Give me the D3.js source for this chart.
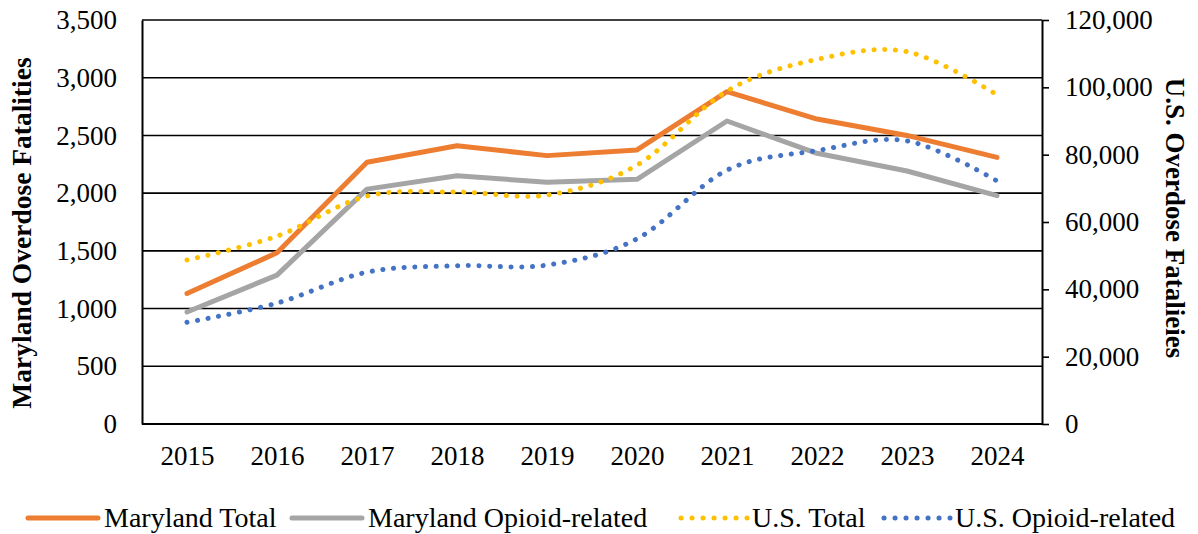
<!DOCTYPE html>
<html lang="en">
<head>
    <meta charset="UTF-8">
    <title>Overdose Fatalities</title>
    <script src="https://d3js.org/d3.v7.min.js"></script>
    <style>
        body { margin: 0; background: #fff; }
        text { font-family: "Liberation Serif", "Times New Roman", serif; fill: #000; }
    </style>
</head>
<body>
    <svg id="chart"></svg>
    <script>
        const years = ["2015", "2016", "2017", "2018", "2019", "2020", "2021", "2022", "2023", "2024"];
        const mdTotal = [1130, 1484, 2268, 2410, 2325, 2374, 2879, 2642, 2500, 2310];
        const mdOpioid = [970, 1290, 2035, 2150, 2095, 2120, 2625, 2345, 2192, 1978];
        const usTotal = [48700, 55800, 67700, 68900, 68000, 76900, 98900, 108300, 110600, 97800];
        const usOpioid = [30200, 35900, 45100, 47000, 47200, 55000, 75400, 81200, 84100, 72200];
        const leftTicks = [0, 500, 1000, 1500, 2000, 2500, 3000, 3500];
        const rightTicks = [0, 20000, 40000, 60000, 80000, 100000, 120000];

        const width = 1198, height = 534;
        const plotL = 142, plotR = 1042, plotT = 20, plotB = 424;

        const svg = d3.select("#chart").attr("width", width).attr("height", height);

        const x = d3.scalePoint().domain(years).range([plotL, plotR]).padding(0.5);
        const yL = d3.scaleLinear().domain([0, 3500]).range([plotB, plotT]);
        const yR = d3.scaleLinear().domain([0, 120000]).range([plotB, plotT]);
        const fmt = d3.format(",");

        // gridlines
        svg.append("g").selectAll("line")
            .data(leftTicks.filter(d => d > 0))
            .join("line")
            .attr("x1", plotL).attr("x2", plotR)
            .attr("y1", d => yL(d)).attr("y2", d => yL(d))
            .attr("stroke", "#000").attr("stroke-width", 1.6);

        // left axis
        const axL = svg.append("g").attr("transform", `translate(${plotL},0)`)
            .call(d3.axisLeft(yL).tickValues(leftTicks).tickFormat(fmt).tickSize(0).tickPadding(25));
        axL.select(".domain").attr("stroke", "#000").attr("stroke-width", 2);
        axL.selectAll("text").style("font-size", "27px").style("font-family", "Liberation Serif");

        // right axis
        const axR = svg.append("g").attr("transform", `translate(${plotR},0)`)
            .call(d3.axisRight(yR).tickValues(rightTicks).tickFormat(fmt).tickSizeInner(7).tickSizeOuter(0).tickPadding(16));
        axR.select(".domain").attr("stroke", "#000").attr("stroke-width", 2);
        axR.selectAll("line").attr("stroke", "#000").attr("stroke-width", 1.6);
        axR.selectAll("text").style("font-size", "27px").style("font-family", "Liberation Serif");

        // bottom axis
        const axB = svg.append("g").attr("transform", `translate(0,${plotB})`)
            .call(d3.axisBottom(x).tickSize(0).tickPadding(22));
        axB.select(".domain").attr("stroke", "#000").attr("stroke-width", 2).attr("d", `M${plotL},0H${plotR}`);
        axB.selectAll("text").style("font-size", "27px").style("font-family", "Liberation Serif");

        // axis titles
        svg.append("text")
            .attr("transform", "translate(31,233) rotate(-90)")
            .attr("text-anchor", "middle")
            .style("font-size", "27.5px").style("font-weight", "bold")
            .text("Maryland Overdose Fatalities");
        svg.append("text")
            .attr("transform", "translate(1166,218) rotate(90)")
            .attr("text-anchor", "middle")
            .style("font-size", "27px").style("font-weight", "bold")
            .text("U.S. Overdose Fatalieies");

        const series = [
            { name: "Maryland Total", values: mdTotal, scale: yL, color: "#ED7D31", dotted: false },
            { name: "Maryland Opioid-related", values: mdOpioid, scale: yL, color: "#A5A5A5", dotted: false },
            { name: "U.S. Total", values: usTotal, scale: yR, color: "#FFC000", dotted: true },
            { name: "U.S. Opioid-related", values: usOpioid, scale: yR, color: "#4472C4", dotted: true }
        ];

        const plot = svg.append("g");
        series.forEach(s => {
            const line = d3.line()
                .x((d, i) => x(years[i]))
                .y(d => s.scale(d))
                .curve(s.dotted ? d3.curveCardinal.tension(0) : d3.curveLinear);
            plot.append("path")
                .datum(s.values)
                .attr("d", line)
                .attr("fill", "none")
                .attr("stroke", s.color)
                .attr("stroke-width", 5)
                .attr("stroke-linecap", "round")
                .attr("stroke-linejoin", "round")
                .attr("stroke-dasharray", s.dotted ? "0.1 10.6" : null);
        });

        // legend
        const legendX = [28, 292, 681, 884];
        const legendY = 518;
        const lg = svg.append("g").selectAll("g")
            .data(series)
            .join("g")
            .attr("transform", (d, i) => `translate(${legendX[i]},${legendY})`);
        lg.append("line")
            .attr("x1", 0).attr("x2", d => d.dotted ? 66 : 70)
            .attr("y1", 0).attr("y2", 0)
            .attr("stroke", d => d.color)
            .attr("stroke-width", 5)
            .attr("stroke-linecap", "round")
            .attr("stroke-dasharray", d => d.dotted ? "0.1 10.9" : null);
        lg.append("text")
            .attr("x", d => d.dotted ? 71 : 76)
            .attr("y", 9)
            .style("font-size", "28px")
            .text(d => d.name);
    </script>
</body>
</html>
